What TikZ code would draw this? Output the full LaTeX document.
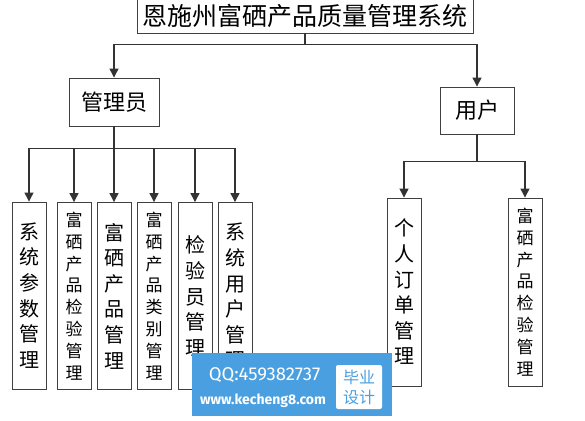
\documentclass[tikz,border=0pt]{standalone}
\usepackage{fontspec}
\newfontfamily\cjk{Noto Sans CJK SC}
\newfontfamily\wmfont{Fira Sans}
\usetikzlibrary{arrows.meta}
\definecolor{wmblue}{HTML}{4A9FE0}

\begin{document}
\begin{tikzpicture}[x=1pt, y=-1pt,
  box/.style={draw=black!75, fill=white, inner sep=0pt, line width=0.9pt},
  leaf/.style={box, minimum width=34pt, minimum height=187pt, align=center,
               font={\cjk\fontsize{20}{25.6}\selectfont}},
  longleaf/.style={leaf, font={\cjk\fontsize{17}{21.8}\selectfont}},
  link/.style={draw=black!80, line width=1.3pt, -{Triangle[length=9pt,width=9pt]}}]
  \useasboundingbox (0,0) rectangle (585,420);
  % root
  \node[box, minimum width=336pt, minimum height=34pt,
        font={\cjk\fontsize{25}{25}\selectfont}] (sys) at (305,16) {恩施州富硒产品质量管理系统};
  \node[box, minimum width=90pt, minimum height=48pt,
        font={\cjk\fontsize{22}{22}\selectfont}] (admin) at (114,102) {管理员};
  \node[box, minimum width=74pt, minimum height=47pt,
        font={\cjk\fontsize{22}{22}\selectfont}] (user) at (477,110.5) {用户};
  % admin leaves
  \node[leaf] (sysparam) at (29,295.5) {系\\统\\参\\数\\管\\理};
  \node[longleaf] (check) at (74,296) {富\\硒\\产\\品\\检\\验\\管\\理};
  \node[leaf] (product) at (114,296) {富\\硒\\产\\品\\管\\理};
  \node[longleaf] (kind) at (154,296) {富\\硒\\产\\品\\类\\别\\管\\理};
  \node[leaf] (checker) at (195,296) {检\\验\\员\\管\\理};
  \node[leaf] (sysuser) at (235,296) {系\\统\\用\\户\\管\\理};
  % user leaves
  \node[leaf, minimum height=188pt] (order) at (404,292) {个\\人\\订\\单\\管\\理};
  \node[longleaf, minimum height=188pt] (ucheck) at (525,292) {富\\硒\\产\\品\\检\\验\\管\\理};
  % links
  \draw[link] (sys.south) -- ++(0,11) -| (admin.north);
  \draw[link] (sys.south) -- ++(0,11) -| (user.north);
  \foreach \n in {sysparam,check,product,kind,checker,sysuser}
    \draw[link] (admin.south) -- ++(0,22) -| (\n.north);
  \foreach \n in {order,ucheck}
    \draw[link] (user.south) -- ++(0,27) -| (\n.north);
  % watermark
  \node[fill=wmblue, minimum width=200pt, minimum height=63pt, inner sep=0pt] (wm) at (292,384.5) {};
  \node[text=white, font={\wmfont\fontsize{18.5}{18.5}\selectfont}] (qq) at (264.5,375) {QQ:459382737};
  \node[text=white, font={\wmfont\bfseries\fontsize{14}{14}\selectfont}] (web) at (263,401) {www.kecheng8.com};
  \node[fill=white, rounded corners=2pt, minimum width=46pt, minimum height=44pt, align=center,
        text=wmblue, font={\cjk\fontsize{16}{20}\selectfont}] (grad) at (359,387) {毕业\\设计};
\end{tikzpicture}
\end{document}
